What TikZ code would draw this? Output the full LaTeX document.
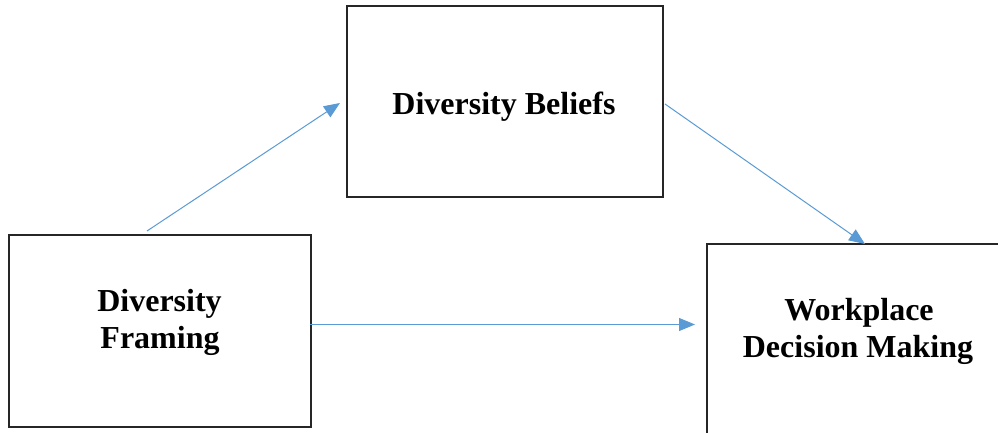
\documentclass[tikz,border=0pt]{standalone}
\usepackage{fontspec}
\setmainfont{Liberation Serif}
\usetikzlibrary{arrows.meta}
\definecolor{arrblue}{HTML}{5B9BD5}
\definecolor{boxline}{HTML}{262626}
\tikzset{
  box/.style={draw=boxline, line width=1.2pt, inner sep=0pt, outer sep=0pt, rectangle},
  lbl/.style={font=\bfseries\fontsize{32}{38}\selectfont, anchor=base, inner sep=0pt},
  arr/.style={draw=arrblue, line width=1pt, -{Triangle[length=16pt,width=13pt]}}
}
\begin{document}
\begin{tikzpicture}[x=1pt,y=-1pt]
\useasboundingbox (0,0) rectangle (998,433);
\clip (0,0) rectangle (998,433);
\fill[white] (0,0) rectangle (998,433);
% boxes
\node[box, minimum width=316pt, minimum height=191pt] (db) at (505,101.5) {};
\node[box, minimum width=302pt, minimum height=192pt] (fr) at (160,331) {};
\node[box, minimum width=303pt, minimum height=192pt] (wd) at (858.5,340) {};
% labels
\node[lbl] (dbt) at (504,115) {Diversity Beliefs};
\node[lbl] (frt1) at (159.5,311) {Diversity};
\node[lbl] (frt2) at (160,348) {Framing};
\node[lbl] (wdt1) at (859,320) {Workplace};
\node[lbl] (wdt2) at (858,357) {Decision Making};
% connectors
\draw[arr] ([xshift=-13pt,yshift=4pt]fr.north) -- ([xshift=-7pt,yshift=-1.5pt]db.west);
\draw[arr] ([xshift=2pt,yshift=-2.5pt]db.east) -- ([xshift=6.5pt]wd.north);
\draw[arr] ([xshift=-1pt,yshift=6.5pt]fr.east) -- ([xshift=-12pt,yshift=15.5pt]wd.west);
\end{tikzpicture}
\end{document}
